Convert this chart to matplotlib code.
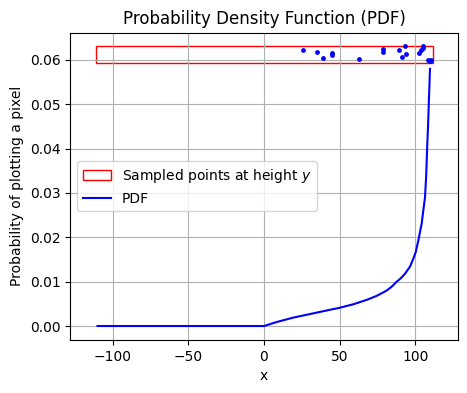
import matplotlib
matplotlib.use("Agg")
import matplotlib.pyplot as plt
from matplotlib.patches import Rectangle

# PDF curve
pdf_x = [-110, 0, 8.4, 19.4, 30.4, 41.4, 49.8, 59.0, 67.9, 74.5, 81.1, 84.5, 87.7, 90.5,
         93.2, 96.5, 98.7, 100.3, 102.0, 103.1, 104.2, 105.3, 106.4, 107.2, 107.8, 108.4,
         108.9, 109.3, 109.7]
pdf_y = [0.0, 0.0, 0.0009, 0.0019, 0.0027, 0.0035, 0.0041, 0.0049, 0.0059, 0.0068, 0.0080, 0.0089, 0.0100, 0.0108,
         0.0118, 0.0134, 0.0152, 0.0167, 0.0193, 0.0212, 0.0231, 0.0261, 0.0290, 0.0340, 0.0400, 0.0450,
         0.0501, 0.0540, 0.0580]

# sampled points
pts_x = [25.5, 35.2, 39.2, 44.9, 44.9, 63.0, 78.9, 78.9, 88.9, 93.3, 94.0, 91.0,
         102.7, 103.6, 104.9, 105.2, 108.2, 109.7, 110.2]
pts_y = [0.0622, 0.0618, 0.0605, 0.0616, 0.0611, 0.0602, 0.0624, 0.0618, 0.0622, 0.0631, 0.0614, 0.0606,
         0.0616, 0.0622, 0.0631, 0.0627, 0.0601, 0.0597, 0.0599]

# rectangle bounds
rect_x = [-110.8, 111.5]
rect_y = [0.0594, 0.0631]

fig = plt.figure(figsize=(4.67, 3.93), dpi=100)
ax = fig.add_axes([0.1505, 0.1349, 0.9807 - 0.1505, 0.9168 - 0.1349])

rect = Rectangle((rect_x[0], rect_y[0]), rect_x[1] - rect_x[0], rect_y[1] - rect_y[0],
                 fill=False, edgecolor='red', linewidth=1, label='Sampled points at height $y$')
ax.add_patch(rect)
ax.scatter(pts_x, pts_y, s=6, color='blue', zorder=3)
ax.plot(pdf_x, pdf_y, color='blue', linewidth=1.5, label='PDF')

ax.set_xlim(-128, 128.2)
ax.set_ylim(-0.00315, 0.06615)
ax.grid(True)
ax.set_xlabel('x')
ax.set_ylabel('Probability of plotting a pixel')
ax.set_title('Probability Density Function (PDF)')
ax.legend(loc='center left')

fig.savefig('out.png', dpi=100)
